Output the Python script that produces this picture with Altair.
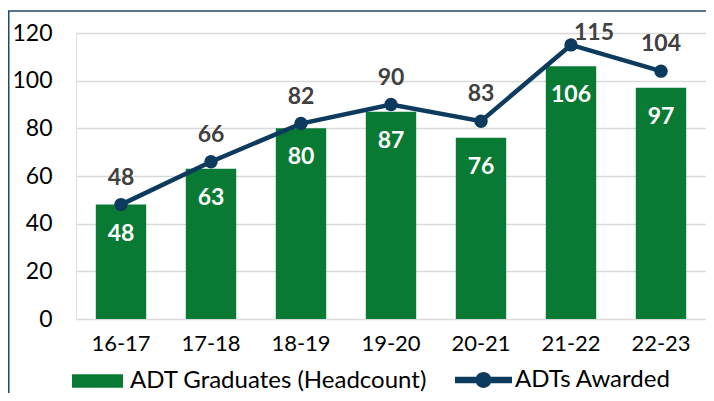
import altair as alt
import pandas as pd

years = ["16-17", "17-18", "18-19", "19-20", "20-21", "21-22", "22-23"]
graduates = [48, 63, 80, 87, 76, 106, 97]
awarded = [48, 66, 82, 90, 83, 115, 104]
y_ticks = [0, 20, 40, 60, 80, 100, 120]

BAR_NAME = "ADT Graduates (Headcount)"
LINE_NAME = "ADTs Awarded"
GREEN = "#087a34"
NAVY = "#0d3b5e"
FONT = "Lato"

df = pd.DataFrame({"year": years, "grad": graduates, "adt": awarded})
df["s1"] = BAR_NAME
df["s2"] = LINE_NAME

base = alt.Chart(df)

x = alt.X("year:N", sort=years, title=None,
          scale=alt.Scale(paddingInner=0.44, paddingOuter=0.22),
          axis=alt.Axis(labelAngle=0, labelFontSize=22, labelColor="#000000",
                        labelFont=FONT, ticks=False, domain=False, grid=False,
                        labelPadding=14))
yscale = alt.Scale(domain=[0, 120], nice=False)
yaxis = alt.Axis(values=y_ticks, labelFontSize=23, labelColor="#000000",
                 labelFont=FONT, ticks=False, domain=False, grid=True,
                 gridColor="#d9d9d9", gridWidth=1.5, labelPadding=24, title=None)

bars = base.mark_bar().encode(
    x=x,
    y=alt.Y("grad:Q", scale=yscale, axis=yaxis),
    fill=alt.Fill("s1:N", scale=alt.Scale(domain=[BAR_NAME], range=[GREEN]),
                  legend=alt.Legend(title=None, orient="none", legendX=-4, legendY=322.5,
                                    symbolType="M-1,-0.26H1V0.26H-1Z", symbolSize=2601,
                                    symbolStrokeWidth=0, labelFontSize=24, labelFont=FONT,
                                    labelColor="#000000", labelOffset=7, padding=0,
                                    labelLimit=1000)),
)

bar_labels = base.mark_text(color="#ffffff", fontWeight="bold", fontSize=23, font=FONT,
                            baseline="middle", dy=29).encode(
    x=alt.X("year:N", sort=years),
    y=alt.Y("grad:Q", scale=yscale),
    text="grad:Q",
)

line = base.mark_line(strokeWidth=4.5).encode(
    x=alt.X("year:N", sort=years),
    y=alt.Y("adt:Q", scale=yscale),
    stroke=alt.Stroke("s2:N", scale=alt.Scale(domain=[LINE_NAME], range=[NAVY]),
                      legend=alt.Legend(title=None, orient="none", legendX=379, legendY=318.5,
                                        symbolType="M-1,-0.11H1V0.11H-1Z M-0.28,0A0.28,0.28 0 1,1 0.28,0A0.28,0.28 0 1,1 -0.28,0Z",
                                        symbolSize=3249, symbolStrokeWidth=0,
                                        symbolFillColor=NAVY, labelFontSize=24, labelFont=FONT,
                                        labelColor="#000000", labelOffset=3, padding=0,
                                        labelLimit=1000)),
)

points = base.mark_point(filled=True, size=180, color=NAVY, opacity=1).encode(
    x=alt.X("year:N", sort=years),
    y=alt.Y("adt:Q", scale=yscale),
)

line_labels = base.mark_text(color="#404040", fontWeight="bold", fontSize=23, font=FONT,
                             baseline="middle", dy=-27).encode(
    x=alt.X("year:N", sort=years),
    y=alt.Y("adt:Q", scale=yscale),
    text="adt:Q",
).transform_filter(alt.datum.year != "21-22")

peak_label = base.mark_text(color="#404040", fontWeight="bold", fontSize=23, font=FONT,
                            baseline="middle", dx=23, dy=-12).encode(
    x=alt.X("year:N", sort=years),
    y=alt.Y("adt:Q", scale=yscale),
    text="adt:Q",
).transform_filter(alt.datum.year == "21-22")

border = alt.Chart(pd.DataFrame({"k": [0]})).mark_rect(
    fill="transparent", stroke="#1f4a70", strokeWidth=1.5
).encode(
    x=alt.value(-67.25), x2=alt.value(800), y=alt.value(-22), y2=alt.value(600)
)

chart = alt.layer(border, bars, bar_labels, line, points, line_labels, peak_label).resolve_scale(
    fill="independent", stroke="independent"
).properties(
    width=630, height=286,
    autosize=alt.AutoSizeParams(type="none"),
    padding={"left": 68, "top": 25, "right": 0, "bottom": 74},
    background="#ffffff",
).configure_view(stroke=None).configure(font=FONT)

chart.save("out.html", embed_options={"renderer": "svg", "actions": False})
